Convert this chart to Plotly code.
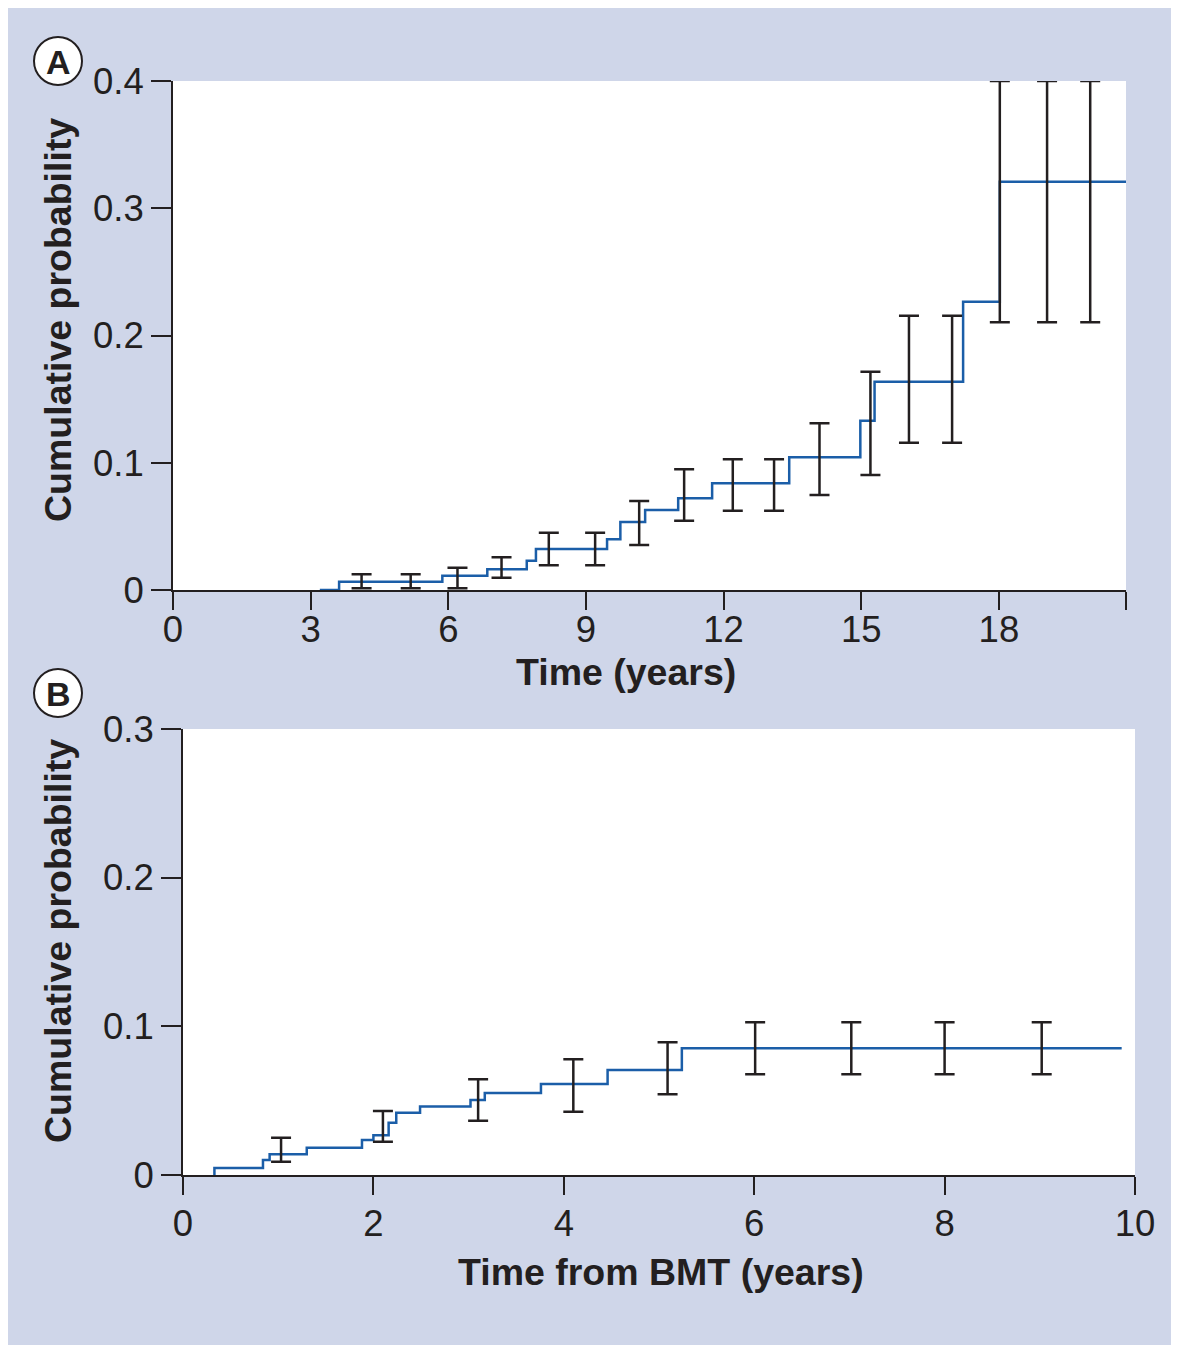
import plotly.graph_objects as go

# ---------------- data ----------------
# Panel A: cumulative probability step curve
a_step_t = [3.20, 3.62, 5.87, 6.85, 7.71, 7.91, 9.46, 9.75, 10.29, 11.01, 11.75, 13.43, 14.98, 15.29, 17.22, 18.02, 20.77]
a_step_p = [0.0, 0.0065, 0.0112, 0.0163, 0.0230, 0.0322, 0.0398, 0.0534, 0.0629, 0.0722, 0.0838, 0.1043, 0.1330, 0.1637, 0.2266, 0.3209, 0.3209]
# Panel A: confidence intervals
a_ci_t = [4.11, 5.18, 6.20, 7.16, 8.19, 9.20, 10.16, 11.14, 12.20, 13.10, 14.09, 15.20, 16.04, 16.98, 18.02, 19.05, 19.99]
a_ci_lo = [0.0013, 0.0013, 0.0013, 0.0097, 0.0194, 0.0194, 0.0354, 0.0545, 0.0623, 0.0623, 0.0747, 0.0904, 0.1158, 0.1158, 0.2104, 0.2104, 0.2104]
a_ci_hi = [0.0123, 0.0123, 0.0175, 0.0257, 0.0450, 0.0450, 0.0700, 0.0949, 0.1027, 0.1027, 0.1310, 0.1716, 0.2156, 0.2156, 0.4000, 0.4000, 0.4000]
a_xticks = [0, 3, 6, 9, 12, 15, 18]
a_yticks = [0, 0.1, 0.2, 0.3, 0.4]
a_ytick_text = ["0", "0.1", "0.2", "0.3", "0.4"]
a_xmax = 20.77

# Panel B
b_step_t = [0.33, 0.33, 0.84, 0.91, 1.30, 1.88, 2.00, 2.16, 2.24, 2.49, 3.02, 3.17, 3.76, 4.46, 5.24, 9.86]
b_step_p = [0.0, 0.0047, 0.0101, 0.0139, 0.0184, 0.0235, 0.0267, 0.0352, 0.0419, 0.0460, 0.0504, 0.0552, 0.0612, 0.0706, 0.0852, 0.0852]
b_ci_t = [1.03, 2.10, 3.10, 4.10, 5.09, 6.01, 7.02, 8.00, 9.02]
b_ci_lo = [0.0089, 0.0224, 0.0365, 0.0426, 0.0543, 0.0677, 0.0677, 0.0677, 0.0677]
b_ci_hi = [0.0251, 0.0430, 0.0644, 0.0778, 0.0893, 0.1027, 0.1027, 0.1027, 0.1027]
b_xticks = [0, 2, 4, 6, 8, 10]
b_yticks = [0, 0.1, 0.2, 0.3]
b_ytick_text = ["0", "0.1", "0.2", "0.3"]

# ---------------- style ----------------
W, H = 1190, 1345
OFF = 8  # page body margin
BG = "#cfd6e9"
INK = "#231f20"
BLUE = "#1b5ea8"
FONT = "Liberation Sans, Arial, sans-serif"


def fx(px):
    return (px - OFF) / W


def fy(py):
    return 1 - (py - OFF) / H


fig = go.Figure()

# Panel A
fig.add_trace(go.Scatter(x=a_step_t, y=a_step_p, mode="lines", line=dict(color=BLUE, width=2.5, shape="hv"),
                         xaxis="x", yaxis="y", showlegend=False, hoverinfo="skip"))
a_mid = [(lo + hi) / 2 for lo, hi in zip(a_ci_lo, a_ci_hi)]
a_half = [(hi - lo) / 2 for lo, hi in zip(a_ci_lo, a_ci_hi)]
fig.add_trace(go.Scatter(x=a_ci_t, y=a_mid, mode="markers", marker=dict(size=1, opacity=0),
                         error_y=dict(type="data", array=a_half, visible=True, color=INK, thickness=2.5, width=10),
                         cliponaxis=False, xaxis="x", yaxis="y", showlegend=False))

# Panel B
fig.add_trace(go.Scatter(x=b_step_t, y=b_step_p, mode="lines", line=dict(color=BLUE, width=2.5, shape="hv"),
                         xaxis="x2", yaxis="y2", showlegend=False, hoverinfo="skip"))
b_mid = [(lo + hi) / 2 for lo, hi in zip(b_ci_lo, b_ci_hi)]
b_half = [(hi - lo) / 2 for lo, hi in zip(b_ci_lo, b_ci_hi)]
fig.add_trace(go.Scatter(x=b_ci_t, y=b_mid, mode="markers", marker=dict(size=1, opacity=0),
                         error_y=dict(type="data", array=b_half, visible=True, color=INK, thickness=2.5, width=10),
                         cliponaxis=False, xaxis="x2", yaxis="y2", showlegend=False))

axis_common = dict(showline=True, linecolor=INK, linewidth=2, ticks="outside", tickwidth=2,
                   tickcolor=INK, showgrid=False, zeroline=False, fixedrange=True, automargin=False,
                   tickfont=dict(family=FONT, size=36.5, color=INK), layer="below traces")

fig.update_layout(
    width=W, height=H, autosize=False,
    margin=dict(l=0, r=0, t=0, b=0, pad=0, autoexpand=False),
    paper_bgcolor=BG, plot_bgcolor="white",
    xaxis=dict(domain=[fx(173), fx(1126)], range=[0, a_xmax], anchor="y",
               tickvals=a_xticks + [a_xmax], ticktext=[str(v) for v in a_xticks] + [""],
               ticklen=18, ticklabelstandoff=-12, **axis_common),
    yaxis=dict(domain=[fy(590), fy(81)], range=[0, 0.4], anchor="x",
               tickvals=a_yticks, ticktext=a_ytick_text, ticklen=20, **axis_common),
    xaxis2=dict(domain=[fx(183), fx(1135)], range=[0, 10], anchor="y2",
                tickvals=b_xticks, ticktext=[str(v) for v in b_xticks], ticklen=18, ticklabelstandoff=-3,
                **axis_common),
    yaxis2=dict(domain=[fy(1175), fy(729)], range=[0, 0.3], anchor="x2",
                tickvals=b_yticks, ticktext=b_ytick_text, ticklen=20, **axis_common),
)

title_font = dict(family=FONT, size=37.5, color=INK)
annots = [
    dict(text="<b>Time (years)</b>", x=fx(626), y=fy(672)),
    dict(text="<b>Time from BMT (years)</b>", x=fx(661), y=fy(1272)),
    dict(text="<b>Cumulative probability</b>", x=fx(58), y=fy(320), textangle=-90),
    dict(text="<b>Cumulative probability</b>", x=fx(58), y=fy(941), textangle=-90),
]
for a in annots:
    fig.add_annotation(xref="paper", yref="paper", showarrow=False, xanchor="center", yanchor="middle",
                       font=title_font, **a)

# circled panel labels
for label, cx, cy in [("A", 58, 61), ("B", 58, 693)]:
    fig.add_shape(type="circle", xref="paper", yref="paper",
                  x0=fx(cx - 24), x1=fx(cx + 24), y0=fy(cy + 24), y1=fy(cy - 24),
                  fillcolor="white", line=dict(color=INK, width=2))
    fig.add_annotation(xref="paper", yref="paper", x=fx(cx), y=fy(cy + 1), text=f"<b>{label}</b>",
                       showarrow=False, xanchor="center", yanchor="middle",
                       font=dict(family=FONT, size=34, color=INK))

fig.write_html("out.html", config={"responsive": False},
               post_script="document.body.style.overflow='hidden';")
